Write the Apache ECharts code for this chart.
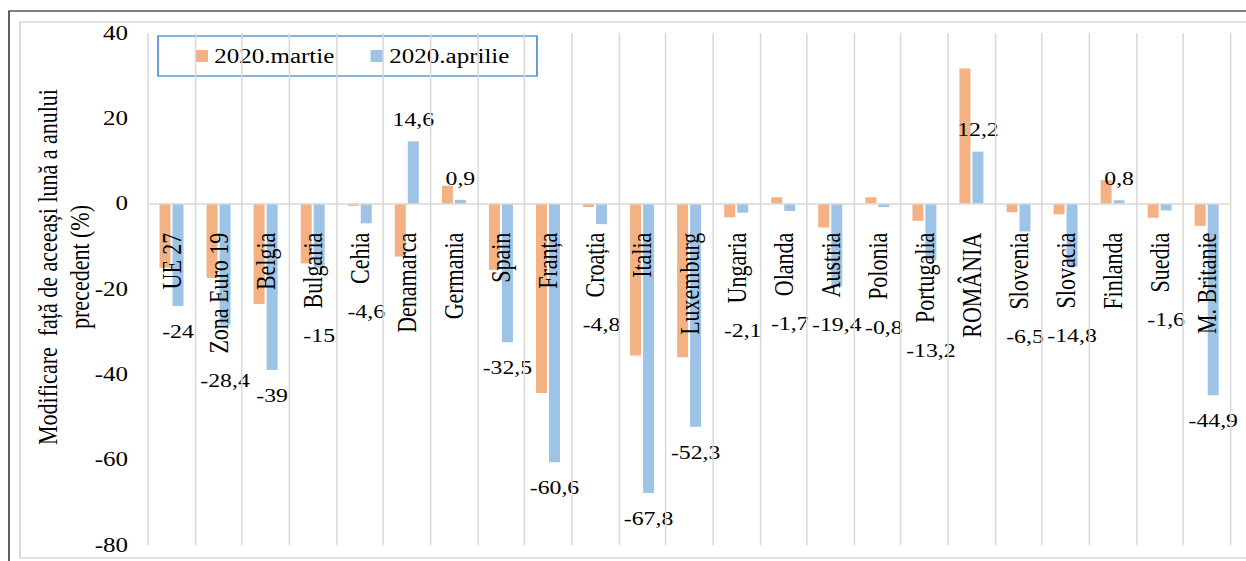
<!DOCTYPE html>
<html lang="ro">
  <head>
    <meta charset="UTF-8" />
    <title>Modificare față de aceeași lună a anului precedent</title>
    <script src="https://cdn.jsdelivr.net/npm/echarts@6.0.0/dist/echarts.min.js"></script>
    <style>
      html,
      body {
        margin: 0;
        padding: 0;
        overflow: hidden;
        background: #fff;
      }
      /* the original picture is stretched sideways, so draw narrow and scale */
      #main {
        --sx: 1.25;
        width: 997px;
        height: 561px;
        transform: scaleX(var(--sx));
        transform-origin: 0 0;
      }
    </style>
  </head>
  <body>
    <div id="main"></div>

    <script type="text/javascript">
      const FONT = "Liberation Serif";

      const categories = [
        "UE 27", "Zona Euro 19", "Belgia", "Bulgaria", "Cehia", "Denamarca",
        "Germania", "Spain", "Franța", "Croația", "Italia", "Luxemburg",
        "Ungaria", "Olanda", "Austria", "Polonia", "Portugalia", "ROMÂNIA",
        "Slovenia", "Slovacia", "Finlanda", "Suedia", "M. Britanie"
      ];
      // 2020.martie (no labels in the original)
      const martie = [
        -15, -17.4, -23.5, -14, -0.5, -12.4, 4.2, -15.5, -44.4, -0.8, -35.6, -36,
        -3.2, 1.5, -5.6, 1.5, -4, 31.7, -2, -2.5, 5.5, -3.3, -5.2
      ];
      // 2020.aprilie (labelled values)
      const aprilie = [
        -24, -28.4, -39, -15, -4.6, 14.6, 0.9, -32.5, -60.6, -4.8, -67.8, -52.3,
        -2.1, -1.7, -19.4, -0.8, -13.2, 12.2, -6.5, -14.8, 0.8, -1.6, -44.9
      ];
      const yTicks = { min: -80, max: 40, interval: 20 };

      const seriesNames = ["2020.martie", "2020.aprilie"];
      const colors = ["#f4b183", "#9dc3e6"];

      const chart = echarts.init(document.getElementById("main"), null, {
        renderer: "svg"
      });

      const gridBox = { left: 118.4, right: 12.8, top: 33, bottom: 16 };
      const gridH = 561 - gridBox.top - gridBox.bottom;
      // move the category axis (line + names) up to the zero line
      const zeroShift = -gridH * (0 - yTicks.min) / (yTicks.max - yTicks.min);

      const labelMargin = 29;
      const catFontSize = 22;

      function fmt(v) {
        return String(v).replace(".", ",");
      }

      const option = {
        animation: false,
        color: colors,
        graphic: [
          {
            type: "rect",
            silent: true,
            shape: { x: 7.2, y: 11, width: 1100, height: 600 },
            style: { fill: "none", stroke: "#000", lineWidth: 1 }
          },
          {
            type: "rect",
            silent: true,
            shape: { x: 16, y: 22, width: 1100, height: 536 },
            style: { fill: "none", stroke: "#d9d9d9", lineWidth: 1.5 }
          },
          {
            type: "text",
            silent: true,
            x: 50.8,
            y: 267,
            rotation: Math.PI / 2,
            style: {
              text: "Modificare  față de aceeași lună a anului\nprecedent (%)",
              fontFamily: FONT,
              fontSize: 22,
              fill: "#000",
              align: "center",
              verticalAlign: "middle",
              lineHeight: 26
            }
          }
        ],
        legend: {
          left: 126.4,
          top: 36,
          padding: [10, 22, 10, 30],
          itemGap: 29,
          itemWidth: 10,
          itemHeight: 12,
          borderColor: "#5b9bd5",
          borderWidth: 1.5,
          backgroundColor: "#fff",
          data: seriesNames.map((n) => ({ name: n, icon: "rect" })),
          textStyle: { fontFamily: FONT, fontSize: 20, color: "#000" }
        },
        grid: Object.assign({ outerBoundsMode: "none", containLabel: false }, gridBox),
        xAxis: {
          type: "category",
          data: categories,
          offset: zeroShift,
          z: 5,
          axisLine: { onZero: false, lineStyle: { color: "#d9d9d9", width: 1.5 } },
          axisTick: { show: false },
          splitLine: { show: true, lineStyle: { color: "#d9d9d9", width: 1.2 } },
          axisLabel: {
            interval: 0,
            rotate: 90,
            margin: labelMargin,
            fontFamily: FONT,
            fontSize: catFontSize,
            color: "#000"
          }
        },
        yAxis: {
          type: "value",
          min: yTicks.min,
          max: yTicks.max,
          interval: yTicks.interval,
          axisLine: { show: false },
          axisTick: { show: false },
          splitLine: { show: false },
          axisLabel: { margin: 16, fontFamily: FONT, fontSize: 20, color: "#000" }
        },
        series: [
          {
            name: seriesNames[0],
            type: "bar",
            barWidth: 8.8,
            barGap: "18%",
            data: martie
          },
          {
            name: seriesNames[1],
            type: "bar",
            barWidth: 8.8,
            data: aprilie,
            label: {
              show: true,
              position: "outside",
              distance: 16,
              fontFamily: FONT,
              fontSize: 19,
              color: "#000",
              formatter: (p) => fmt(p.value)
            }
          }
        ]
      };

      chart.setOption(option);

      // keep the value labels of short bars clear of the rotated country names
      const ctx = document.createElement("canvas").getContext("2d");
      ctx.font = catFontSize + "px " + FONT;
      const zeroY = chart.convertToPixel({ yAxisIndex: 0 }, 0);
      const aprilieItems = aprilie.map((v, i) => {
        if (v >= 0) return { value: v, label: { distance: 12 } };
        const barEnd = chart.convertToPixel({ yAxisIndex: 0 }, v);
        const textEnd = zeroY + labelMargin + ctx.measureText(categories[i]).width;
        return { value: v, label: { distance: Math.max(16, textEnd + 18 - barEnd) } };
      });
      chart.setOption({ series: [{}, { data: aprilieItems }] });
    </script>
  </body>
</html>
